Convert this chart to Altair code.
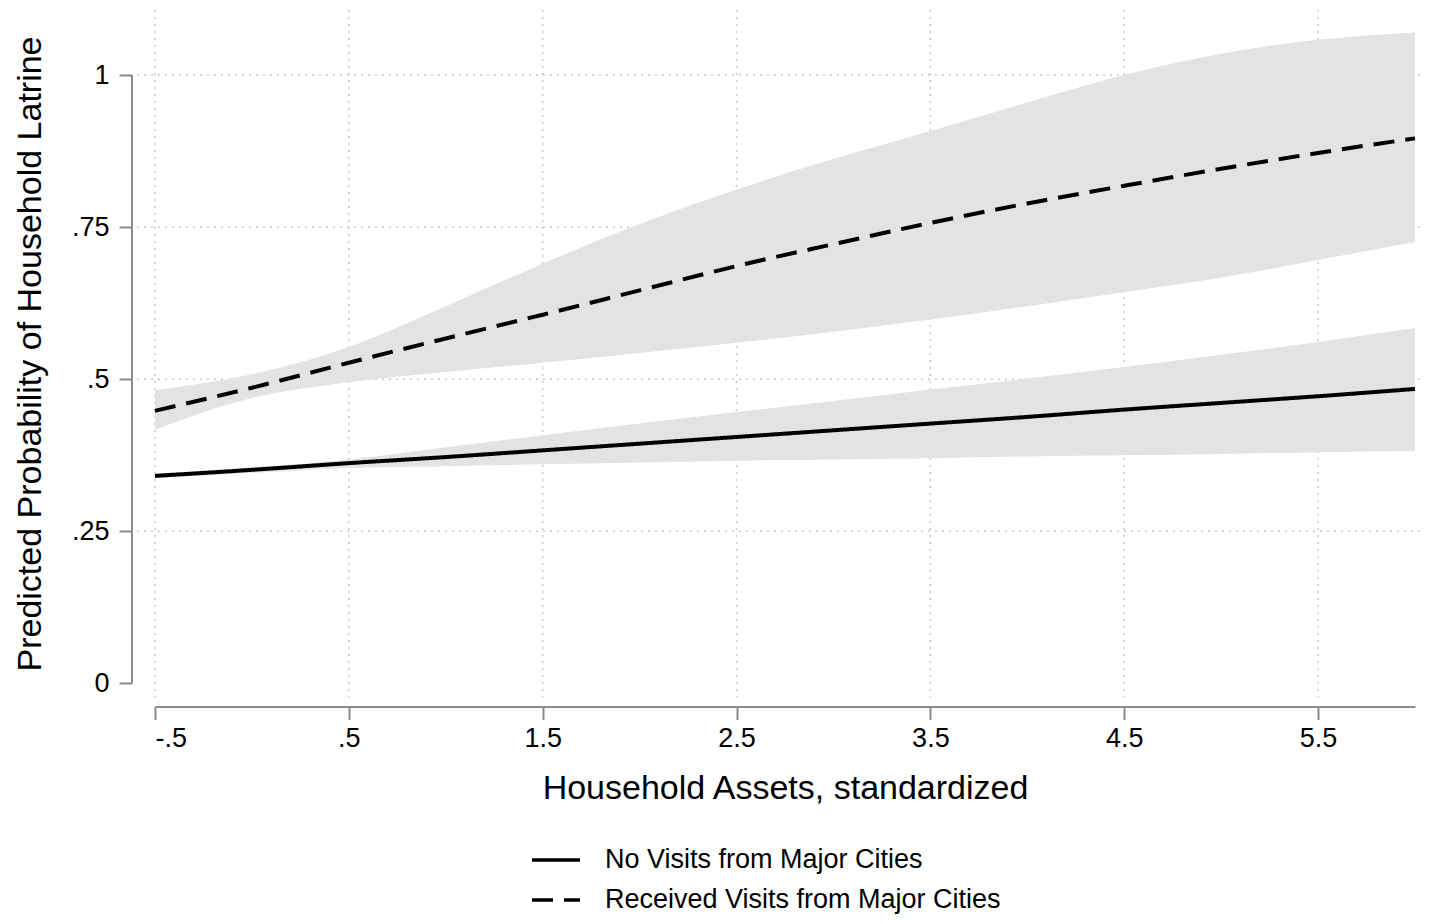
import altair as alt
import pandas as pd

# ---------------- data ----------------
x_vals = [-0.5, 0.0, 0.5, 1.0, 1.5, 2.0, 2.5, 3.0, 3.5, 4.0, 4.5, 5.0, 5.5, 6.0]

no_visit_mean = [0.341, 0.351, 0.362, 0.372, 0.383, 0.394, 0.405, 0.416, 0.427, 0.438, 0.450, 0.461, 0.472, 0.484]
no_visit_lo = [0.337, 0.346, 0.354, 0.357, 0.360, 0.363, 0.366, 0.368, 0.370, 0.373, 0.375, 0.377, 0.380, 0.382]
no_visit_hi = [0.345, 0.355, 0.368, 0.388, 0.408, 0.427, 0.446, 0.464, 0.483, 0.501, 0.520, 0.540, 0.561, 0.584]

visit_mean = [0.448, 0.486, 0.527, 0.567, 0.606, 0.646, 0.686, 0.722, 0.757, 0.789, 0.818, 0.846, 0.872, 0.896]
visit_lo = [0.417, 0.469, 0.495, 0.512, 0.527, 0.543, 0.560, 0.578, 0.598, 0.620, 0.643, 0.667, 0.696, 0.726]
visit_hi = [0.482, 0.508, 0.553, 0.620, 0.690, 0.755, 0.812, 0.862, 0.908, 0.955, 1.000, 1.035, 1.058, 1.070]

series_names = ["No Visits from Major Cities", "Received Visits from Major Cities"]

x_tick_values = [-0.5, 0.5, 1.5, 2.5, 3.5, 4.5, 5.5]
x_tick_labels = ["-.5", ".5", "1.5", "2.5", "3.5", "4.5", "5.5"]
y_tick_values = [0, 0.25, 0.5, 0.75, 1]
y_tick_labels = ["0", ".25", ".5", ".75", "1"]
y_grid_values = [0.25, 0.5, 0.75, 1]

x_title = "Household Assets, standardized"
y_title = "Predicted Probability of Household Latrine"

# ---------------- tables ----------------
rows = []
for i, xv in enumerate(x_vals):
    rows.append({"x": xv, "series": series_names[0], "mean": no_visit_mean[i],
                 "lo": no_visit_lo[i], "hi": no_visit_hi[i]})
    rows.append({"x": xv, "series": series_names[1], "mean": visit_mean[i],
                 "lo": visit_lo[i], "hi": visit_hi[i]})
df = pd.DataFrame(rows)
vgrid_df = pd.DataFrame({"x": x_tick_values})
hgrid_df = pd.DataFrame({"y": y_grid_values})
yline_df = pd.DataFrame({"y": [y_tick_values[0]], "y2": [y_tick_values[-1]]})


def label_expr(values, labels):
    parts = [f"datum.value == {v} ? '{l}'" for v, l in zip(values, labels)]
    return " : ".join(parts) + " : ''"


W, H = 1260, 687
FONT = "Liberation Sans"
GRID = "#c9c9c9"
AXIS = "#8c8c8c"

xscale = alt.Scale(domain=[-0.5, 6.0], nice=False, zero=False)
yscale = alt.Scale(domain=[-0.0225, 1.107], nice=False, zero=False)

xaxis = alt.Axis(values=x_tick_values, labelExpr=label_expr(x_tick_values, x_tick_labels),
                 grid=False, domain=True, domainColor=AXIS, domainWidth=2,
                 tickColor=AXIS, tickWidth=2, tickSize=13, offset=9.5,
                 labelFontSize=27, labelPadding=6, labelColor="black", labelFont=FONT,
                 titleFontSize=34, titlePadding=20, titleColor="black", titleFont=FONT,
                 titleFontWeight="normal")
yaxis = alt.Axis(values=y_tick_values, labelExpr=label_expr(y_tick_values, y_tick_labels),
                 grid=False, domain=False,
                 tickColor=AXIS, tickWidth=2, tickSize=13, offset=23,
                 labelFontSize=27, labelPadding=10, labelColor="black", labelFont=FONT,
                 titleFontSize=34, titlePadding=24, titleColor="black", titleFont=FONT,
                 titleFontWeight="normal")

X = alt.X("x:Q", scale=xscale, axis=xaxis, title=x_title)

vgrid = alt.Chart(vgrid_df).mark_rule(color=GRID, strokeWidth=1.5, strokeDash=[2, 5]).encode(x=X)
hgrid = alt.Chart(hgrid_df).mark_rule(color=GRID, strokeWidth=1.5, strokeDash=[2, 5]).encode(
    y=alt.Y("y:Q", scale=yscale, axis=yaxis, title=y_title),
    x=alt.value(-18), x2=alt.value(W + 10))

bands = alt.Chart(df).mark_area(color="#e3e3e3", opacity=1, interpolate="monotone").encode(
    x=X,
    y=alt.Y("lo:Q", scale=yscale, axis=yaxis, title=y_title),
    y2="hi:Q",
    detail="series:N")

lines = alt.Chart(df).mark_line(color="black", strokeWidth=4, interpolate="monotone").encode(
    x=X,
    y=alt.Y("mean:Q", scale=yscale, axis=yaxis, title=y_title),
    strokeDash=alt.StrokeDash(
        "series:N",
        scale=alt.Scale(domain=series_names, range=[[1, 0], [21, 11]]),
        legend=alt.Legend(title=None, orient="none", legendX=375, legendY=830,
                          direction="vertical", symbolType="stroke", symbolSize=2304,
                          symbolStrokeWidth=3.5, symbolStrokeColor="black",
                          labelFontSize=27, labelFont=FONT, labelColor="black",
                          labelLimit=700, labelOffset=23, clipHeight=40,
                          rowPadding=0, padding=0)))

yline = alt.Chart(yline_df).mark_rule(color=AXIS, strokeWidth=2).encode(
    y=alt.Y("y:Q", scale=yscale, axis=yaxis, title=y_title),
    y2="y2:Q",
    x=alt.value(-23))

chart = alt.layer(vgrid, hgrid, bands, lines, yline).properties(
    width=W, height=H,
    autosize=alt.AutoSizeParams(type="none"),
    padding={"left": 147, "top": 2, "right": 10, "bottom": 219},
    background="white",
).configure_view(stroke=None)

chart.save("out.html", embed_options={"renderer": "svg", "actions": False})
